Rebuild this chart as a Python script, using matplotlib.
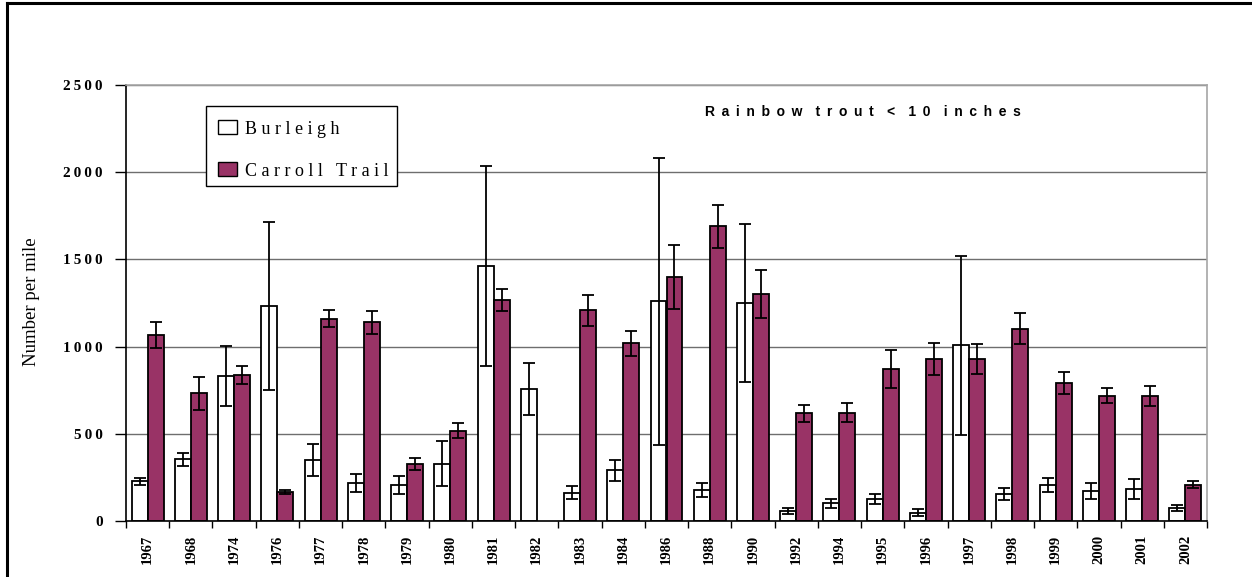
import numpy as np
import matplotlib
matplotlib.use("Agg")
import matplotlib.pyplot as plt
from matplotlib.patches import Rectangle
from matplotlib.lines import Line2D
from matplotlib.ticker import FuncFormatter, FixedLocator

# ---- data -------------------------------------------------------------
years = ["1967", "1968", "1974", "1976", "1977", "1978", "1979", "1980",
         "1981", "1982", "1983", "1984", "1986", "1988", "1990", "1992",
         "1994", "1995", "1996", "1997", "1998", "1999", "2000", "2001",
         "2002"]

burleigh = [228, 355, 833, 1233, 350, 218, 208, 329, 1462, 755, 161, 292,
            1260, 178, 1250, 57, 101, 124, 48, 1007, 155, 205, 172, 182, 73]
burleigh_err = [19, 37, 171, 482, 92, 54, 52, 131, 573, 149, 37, 60, 822,
                40, 455, 19, 26, 28, 22, 515, 36, 39, 47, 56, 16]

carroll = [1065, 732, 837, 164, 1160, 1139, 329, 518, 1265, np.nan, 1208,
           1019, 1401, 1690, 1302, 617, 621, 872, 927, 929, 1103, 790, 719,
           717, 208]
carroll_err = [75, 94, 51, 11, 47, 64, 34, 44, 63, np.nan, 90, 72, 183,
               122, 136, 50, 54, 111, 91, 88, 89, 63, 44, 57, 21]

series_names = ["Burleigh", "Carroll Trail"]
title_text = "Rainbow trout < 10 inches"
y_label = "Number per mile"
y_ticks = [0, 500, 1000, 1500, 2000, 2500]

# ---- styling ----------------------------------------------------------
W, H = 1252, 577
PLUM = "#993366"
SERIF = ["Liberation Serif", "DejaVu Serif"]
SANS = ["Liberation Sans", "DejaVu Sans"]
THIN = "\u2009"


def fx(x):
    return x / W


def fy(y):
    return 1 - y / H


def spaced(s, sep=" ", word_sep="   "):
    """Letter-spaced version of a string."""
    return word_sep.join(sep.join(list(w)) for w in s.split(" "))


fig = plt.figure(figsize=(W / 100, H / 100), dpi=100)
ax = fig.add_axes([fx(126), fy(521), (1207 - 126) / W, (521 - 85) / H])

n = len(years)
x = np.arange(n)
bw = 0.37

ax.bar(x - bw / 2, burleigh, width=bw, color="white", edgecolor="black",
       linewidth=1.3, zorder=2)
ax.bar(x + bw / 2, carroll, width=bw, color=PLUM, edgecolor="black",
       linewidth=1.3, zorder=2)
ax.errorbar(x - bw / 2, burleigh, yerr=burleigh_err, fmt="none",
            ecolor="black", elinewidth=1.3, capsize=4.5, capthick=1.3,
            zorder=3)
ax.errorbar(x + bw / 2, carroll, yerr=carroll_err, fmt="none",
            ecolor="black", elinewidth=1.3, capsize=4.5, capthick=1.3,
            zorder=3)

ax.set_xlim(-0.5, n - 0.5)
ax.set_ylim(0, 2500)

# y axis
ax.set_yticks(y_ticks)
ax.yaxis.set_major_formatter(
    FuncFormatter(lambda v, p: spaced(str(int(v)), THIN)))
ax.tick_params(axis="y", direction="out", length=8, width=1, pad=8.6,
               labelsize=11, color="black")
for lab in ax.get_yticklabels():
    lab.set_family(SERIF)
    lab.set_fontweight("bold")
ax.grid(axis="y", color="#6e6e6e", linewidth=1.0)
ax.set_axisbelow(True)

# x axis: ticks between categories, labels at centres
ax.xaxis.set_major_locator(FixedLocator(np.arange(n + 1) - 0.5))
ax.xaxis.set_major_formatter(FuncFormatter(lambda v, p: ""))
ax.xaxis.set_minor_locator(FixedLocator(x))
ax.set_xticklabels(years, minor=True)
ax.tick_params(axis="x", which="major", direction="out", length=5, width=1,
               color="black")
ax.tick_params(axis="x", which="minor", length=0, pad=10, labelsize=10.5,
               labelrotation=90)
for lab in ax.get_xticklabels(minor=True):
    lab.set_family(SERIF)
    lab.set_fontweight("bold")
    lab.set_verticalalignment("top")

for side in ("left", "bottom"):
    ax.spines[side].set_color("black")
    ax.spines[side].set_linewidth(1.2)
for side in ("top", "right"):
    ax.spines[side].set_color("#a6a6a6")
    ax.spines[side].set_linewidth(1.2)

# axis title
fig.text(fx(32), fy(302), y_label, rotation=90, ha="center", va="center",
         fontsize=13.5, family=SERIF)

# chart title
fig.text(fx(705), fy(116.5),
         spaced(title_text, " " + THIN, (" " + THIN) * 2), ha="left",
         va="baseline", fontsize=10, fontweight="bold", family=SANS)

# legend box
fig.add_artist(Rectangle((fx(206), fy(186)), (397 - 206) / W, (186 - 106) / H,
                         transform=fig.transFigure, facecolor="white",
                         edgecolor="black", linewidth=1.0, zorder=5))
legend_rows = [(series_names[0], "white", 120, 134),
               (series_names[1], PLUM, 162, 176)]
for name, col, y0, y1 in legend_rows:
    fig.add_artist(Rectangle((fx(218), fy(y1)), (237 - 218) / W, (y1 - y0) / H,
                             transform=fig.transFigure, facecolor=col,
                             edgecolor="black", linewidth=1.0, zorder=6))
    fig.text(fx(245), fy(y1), spaced(name), ha="left", va="baseline",
             fontsize=13, family=SERIF, zorder=6)

# outer frame
fig.add_artist(Line2D([fx(7), 1.0], [fy(3), fy(3)], transform=fig.transFigure,
                      color="black", linewidth=2.2))
fig.add_artist(Line2D([fx(7), fx(7)], [fy(3), 0.0], transform=fig.transFigure,
                      color="black", linewidth=2.2))

fig.savefig("out.png", dpi=100, facecolor="white")
